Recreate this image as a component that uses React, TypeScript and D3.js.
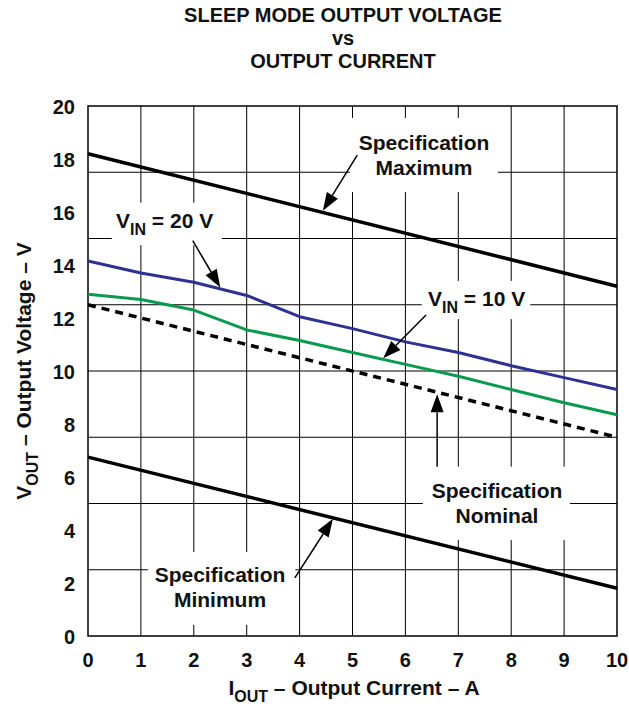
import React from "react";
import * as d3 from "d3";

const currents = [0, 1, 2, 3, 4, 5, 6, 7, 8, 9, 10];
const vin20 = [14.15, 13.7, 13.35, 12.85, 12.05, 11.6, 11.1, 10.7, 10.2, 9.75, 9.3];
const vin10 = [12.9, 12.7, 12.3, 11.55, 11.15, 10.7, 10.25, 9.8, 9.3, 8.8, 8.35];
const specX = [0, 10];
const specMax = [18.2, 13.2];
const specNom = [12.5, 7.5];
const specMin = [6.75, 1.8];
const xTicks = [0, 1, 2, 3, 4, 5, 6, 7, 8, 9, 10];
const yTicks = [0, 2, 4, 6, 8, 10, 12, 14, 16, 18, 20];
const yGrid = [2.5, 5, 7.5, 10, 12.5, 15, 17.5];

const W = 629, H = 713;
const M = { left: 88, right: 617, top: 106, bottom: 636 };
const FONT = "'Liberation Sans', Arial, Helvetica, sans-serif";

export default function App() {
  const x = d3.scaleLinear().domain([0, 10]).range([M.left, M.right]);
  const y = d3.scaleLinear().domain([0, 20]).range([M.bottom, M.top]);
  const line = d3.line<[number, number]>().x(d => x(d[0])).y(d => y(d[1]));
  const zip = (xs: number[], ys: number[]) => xs.map((v, i) => [v, ys[i]] as [number, number]);

  // white label boxes (data units)
  const boxes = [
    [4.95, 7.75, 19.55, 16.75],
    [0.45, 2.53, 16.35, 14.75],
    [6.31, 8.36, 13.4, 11.96],
    [6.33, 9.11, 6.39, 3.62],
    [1.13, 3.92, 3.17, 0.42],
  ];
  const arrows = [
    [5.09, 18.15, 4.44, 16.05],
    [1.98, 14.92, 2.5, 13.15],
    [6.39, 12.11, 5.58, 10.48],
    [6.6, 6.39, 6.6, 9.12],
    [3.91, 2.19, 4.63, 4.42],
  ];

  const arrowEl = (a: number[], i: number) => {
    const x1 = x(a[0]), y1 = y(a[1]), x2 = x(a[2]), y2 = y(a[3]);
    const ang = Math.atan2(y2 - y1, x2 - x1);
    const L = 18, Wd = 6.5;
    const bx = x2 - L * Math.cos(ang), by = y2 - L * Math.sin(ang);
    const px = -Math.sin(ang) * Wd, py = Math.cos(ang) * Wd;
    return (
      <g key={"a" + i}>
        <line x1={x1} y1={y1} x2={bx} y2={by} stroke="#000" strokeWidth={1.5} />
        <polygon points={`${x2},${y2} ${bx + px},${by + py} ${bx - px},${by - py}`} fill="#000" />
      </g>
    );
  };

  const lbl = { fontFamily: FONT, fontWeight: 700, fontSize: 21, fill: "#111" } as const;
  const sub = 16;

  return (
    <svg width={W} height={H} style={{ position: "absolute", left: 0, top: 0, background: "#fff" }}>
      <rect width={W} height={H} fill="#fff" />
      {/* Title */}
      <g style={{ fontFamily: FONT, fontWeight: 700, fontSize: 20 }} fill="#111" textAnchor="middle">
        <text x={343} y={22}>SLEEP MODE OUTPUT VOLTAGE</text>
        <text x={343} y={45}>vs</text>
        <text x={343} y={68}>OUTPUT CURRENT</text>
      </g>
      {/* grid */}
      {xTicks.slice(1, -1).map(t => (
        <line key={"gx" + t} x1={x(t)} x2={x(t)} y1={M.top} y2={M.bottom} stroke="#000" strokeWidth={1} />
      ))}
      {yGrid.map(t => (
        <line key={"gy" + t} x1={M.left} x2={M.right} y1={y(t)} y2={y(t)} stroke="#000" strokeWidth={1} />
      ))}
      {boxes.map((b, i) => (
        <rect key={"b" + i} x={x(b[0])} y={y(b[2])} width={x(b[1]) - x(b[0])} height={y(b[3]) - y(b[2])} fill="#fff" />
      ))}
      <rect x={M.left} y={M.top} width={M.right - M.left} height={M.bottom - M.top} fill="none" stroke="#000" strokeWidth={1.5} />
      {/* data */}
      <path d={line(zip(specX, specMax)) || ""} fill="none" stroke="#000" strokeWidth={3.5} />
      <path d={line(zip(specX, specMin)) || ""} fill="none" stroke="#000" strokeWidth={3.5} />
      <path d={line(zip(specX, specNom)) || ""} fill="none" stroke="#000" strokeWidth={3.5} strokeDasharray="8,6" />
      <path d={line(zip(currents, vin20)) || ""} fill="none" stroke="#2e3192" strokeWidth={3} strokeLinejoin="round" />
      <path d={line(zip(currents, vin10)) || ""} fill="none" stroke="#0a9a4e" strokeWidth={3} strokeLinejoin="round" />
      {arrows.map(arrowEl)}
      {/* labels */}
      <g style={lbl} textAnchor="middle">
        <text x={424} y={150}>Specification</text>
        <text x={424} y={175}>Maximum</text>
        <text x={497} y={498}>Specification</text>
        <text x={497} y={523}>Nominal</text>
        <text x={220} y={582}>Specification</text>
        <text x={220} y={607}>Minimum</text>
      </g>
      <text x={116} y={228} style={lbl}>
        V<tspan fontSize={sub} dy={7}>IN</tspan><tspan dy={-7}> = 20 V</tspan>
      </text>
      <text x={428} y={306} style={lbl}>
        V<tspan fontSize={sub} dy={7}>IN</tspan><tspan dy={-7}> = 10 V</tspan>
      </text>
      {/* ticks */}
      <g style={{ fontFamily: FONT, fontWeight: 700, fontSize: 20 }} fill="#111">
        {yTicks.map(t => (
          <text key={"yt" + t} x={75} y={y(t) + 7.5} textAnchor="end">{t}</text>
        ))}
        {xTicks.map(t => (
          <text key={"xt" + t} x={x(t)} y={667} textAnchor="middle">{t}</text>
        ))}
      </g>
      {/* axis titles */}
      <text x={354} y={695} textAnchor="middle" style={lbl}>
        I<tspan fontSize={sub} dy={7}>OUT</tspan><tspan dy={-7}> – Output Current – A</tspan>
      </text>
      <text transform={`translate(31, ${(M.top + M.bottom) / 2}) rotate(-90)`} textAnchor="middle" style={lbl}>
        V<tspan fontSize={sub} dy={7}>OUT</tspan><tspan dy={-7}> – Output Voltage – V</tspan>
      </text>
    </svg>
  );
}
